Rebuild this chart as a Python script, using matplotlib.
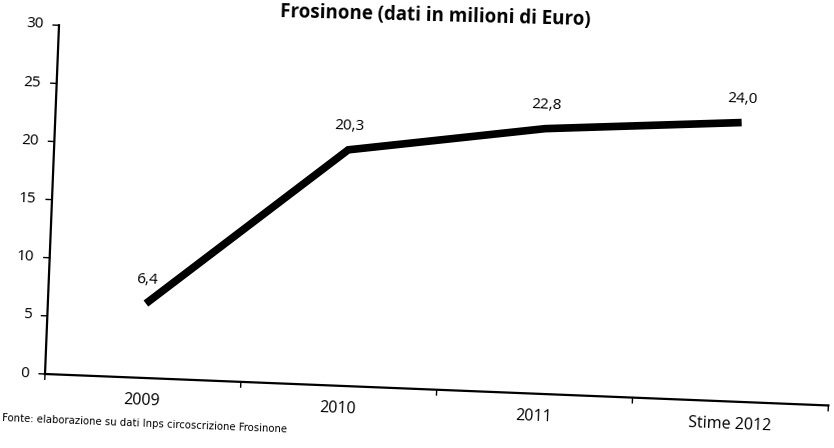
import matplotlib
matplotlib.use("Agg")
import matplotlib.pyplot as plt
from matplotlib.transforms import Affine2D

# values read from the (skewed) scan
categories = ["2009", "2010", "2011", "Stime 2012"]
values = [6.4, 20.3, 22.8, 24.0]
value_labels = ["6,4", "20,3", "22,8", "24,0"]
y_ticks = [0, 5, 10, 15, 20, 25, 30]

title = "Frosinone (dati in milioni di Euro)"
source = "Fonte: elaborazione su dati Inps circoscrizione Frosinone"

plt.rcParams['font.family'] = ['Open Sans', 'DejaVu Sans']

W, H = 834, 448
fig = plt.figure(figsize=(W / 100, H / 100), dpi=100)

# axes origin in pixels (scan is rotated a bit clockwise)
ox, oy = 45, H - 374
tilt = -2.3
ax = fig.add_axes([ox / W, oy / H, 784 / W, 349 / H])
ax.set_xlim(-0.5, 3.5)
ax.set_ylim(0, 30)
ax.axis('off')

rot = Affine2D().rotate_deg_around(ox, oy, tilt)
T = ax.transData + rot

x = list(range(len(categories)))

# axis lines
ax.plot([-0.5, 3.5], [0, 0], color='black', lw=1.6, transform=T, clip_on=False)
ax.plot([-0.5, -0.5], [0, 30], color='black', lw=1.6, transform=T, clip_on=False)

# y ticks and labels
for v in y_ticks:
    ax.plot([-0.53, -0.5], [v, v], color='black', lw=1.0, transform=T, clip_on=False)
    ax.text(-0.58, v, str(v), ha='right', va='center', fontsize=11,
            rotation=tilt, rotation_mode='anchor', transform=T, clip_on=False)

# x ticks between categories
for b in [-0.5, 0.5, 1.5, 2.5, 3.5]:
    ax.plot([b, b], [0, -0.45], color='black', lw=1.0, transform=T, clip_on=False)
for xi, c in zip(x, categories):
    ax.text(xi, -2.0, c, ha='center', va='center', fontsize=11.5,
            rotation=tilt, rotation_mode='anchor', transform=T, clip_on=False)

# the series
ax.plot(x, values, color='black', lw=5.5, solid_capstyle='butt',
        solid_joinstyle='miter', transform=T, clip_on=False)
for xi, v, lab in zip(x, values, value_labels):
    ax.text(xi, v + 2.0, lab, ha='center', va='center', fontsize=11,
            rotation=tilt, rotation_mode='anchor', transform=T, clip_on=False)

# title (top of the scan) and source note (bottom left)
fig.text(435 / W, (H - 16) / H, title, ha='center', va='center', fontsize=13.5,
         fontweight='bold', rotation=-1.5, rotation_mode='anchor')
fig.text(2 / W, 30 / H, source, ha='left', va='center', fontsize=7.3,
         family=['DejaVu Sans'], rotation=tilt, rotation_mode='anchor')

fig.savefig("out.png", dpi=100, facecolor='white')
